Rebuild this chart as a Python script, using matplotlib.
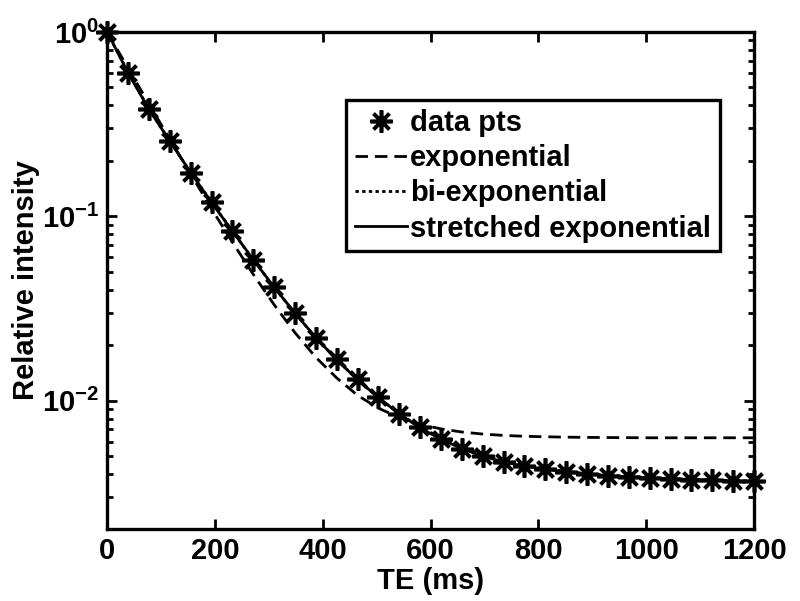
import numpy as np
import matplotlib
matplotlib.use('Agg')
import matplotlib.pyplot as plt
from matplotlib.ticker import FixedLocator, FuncFormatter, LogLocator, NullFormatter

# data
te = np.linspace(0, 1200, 32)   # echo times (ms)
data_pts = [1.0, 0.60, 0.38, 0.255, 0.172, 0.119, 0.083, 0.058, 0.0412, 0.030,
            0.0220, 0.0168, 0.0131, 0.0105, 0.0085, 0.0072, 0.0062, 0.0055, 0.0050,
            0.00467, 0.00443, 0.00427, 0.00410, 0.00399, 0.00393, 0.00388, 0.00382,
            0.00377, 0.00372, 0.00370, 0.00368, 0.00365]
exp_fit = [0.996, 0.637, 0.408, 0.262, 0.170, 0.110, 0.0725, 0.0485, 0.0332, 0.0234,
           0.0172, 0.0133, 0.0107, 0.00912, 0.0081, 0.00745, 0.00704, 0.00677, 0.0066,
           0.00649, 0.00642, 0.00638, 0.00635, 0.00633, 0.00632, 0.00631, 0.0063,
           0.0063, 0.0063, 0.0063, 0.0063, 0.0063]
biexp_fit = [0.995, 0.605, 0.382, 0.256, 0.173, 0.1195, 0.0832, 0.0582, 0.0412, 0.0298,
             0.0220, 0.0167, 0.0130, 0.0104, 0.0085, 0.0072, 0.0063, 0.0056, 0.0051,
             0.00472, 0.00446, 0.00428, 0.00414, 0.00403, 0.00395, 0.00389, 0.00384,
             0.00379, 0.00375, 0.00372, 0.00369, 0.00367]
stretched_fit = [1.0, 0.600, 0.381, 0.256, 0.173, 0.119, 0.0832, 0.0583, 0.0413, 0.0299,
                 0.0220, 0.0167, 0.0130, 0.0104, 0.0085, 0.0071, 0.0062, 0.0055, 0.0050,
                 0.00466, 0.00442, 0.00426, 0.00411, 0.00400, 0.00393, 0.00387, 0.00382,
                 0.00377, 0.00373, 0.00370, 0.00367, 0.00365]
x_ticks = [0, 200, 400, 600, 800, 1000, 1200]
y_ticks = [1e-2, 1e-1, 1e0]

plt.rcParams['font.family'] = 'Liberation Sans'
plt.rcParams['font.weight'] = 'bold'
plt.rcParams['mathtext.fontset'] = 'custom'
plt.rcParams['mathtext.rm'] = 'Liberation Sans:bold'
plt.rcParams['mathtext.bf'] = 'Liberation Sans:bold'

fig = plt.figure(figsize=(8, 6.01), dpi=100)
ax = fig.add_axes([0.134, 0.12, 0.8085, 0.8268])

ax.plot(te, exp_fit, color='black', linestyle=(0, (4.5, 2.5)), linewidth=2.0, label='exponential')
ax.plot(te, biexp_fit, color='black', linestyle=(0, (1.2, 1.2)), linewidth=2.0, label='bi-exponential')
ax.plot(te, stretched_fit, color='black', linestyle='-', linewidth=2.0, label='stretched exponential')
ax.plot(te, data_pts, linestyle='none', marker=(8, 2, 0), markersize=16,
        markeredgewidth=2.6, color='black', label='data pts', clip_on=False, zorder=5)

ax.set_yscale('log')
ax.set_xlim(0, 1200)
ax.set_ylim(2.02e-3, 1.0)

ax.xaxis.set_major_locator(FixedLocator(x_ticks))
ax.yaxis.set_major_locator(FixedLocator(y_ticks))
ax.yaxis.set_minor_locator(LogLocator(base=10, subs=np.arange(2, 10)))
ax.yaxis.set_minor_formatter(NullFormatter())
ax.yaxis.set_major_formatter(FuncFormatter(lambda v, p: r'$\mathbf{10^{%d}}$' % round(np.log10(v))))

ax.tick_params(which='both', direction='in', top=True, right=True, width=2.0, labelsize=21)
ax.tick_params(which='major', length=7, pad=6)
ax.tick_params(which='minor', length=4)
for s in ax.spines.values():
    s.set_linewidth(2.4)

ax.set_xlabel('TE (ms)', fontsize=21, fontweight='bold', labelpad=1)
ax.set_ylabel('Relative intensity', fontsize=21, fontweight='bold', labelpad=1)

handles, labels = ax.get_legend_handles_labels()
order = [3, 0, 1, 2]
leg = ax.legend([handles[i] for i in order], [labels[i] for i in order],
                loc='upper left', bbox_to_anchor=(0.369, 0.863), fontsize=21,
                numpoints=1, handlelength=1.8, handletextpad=0.1, borderpad=0.3,
                labelspacing=0.25, fancybox=False, framealpha=1, edgecolor='black',
                borderaxespad=0)
leg.get_frame().set_linewidth(2.4)

fig.savefig('out.png', dpi=100)
